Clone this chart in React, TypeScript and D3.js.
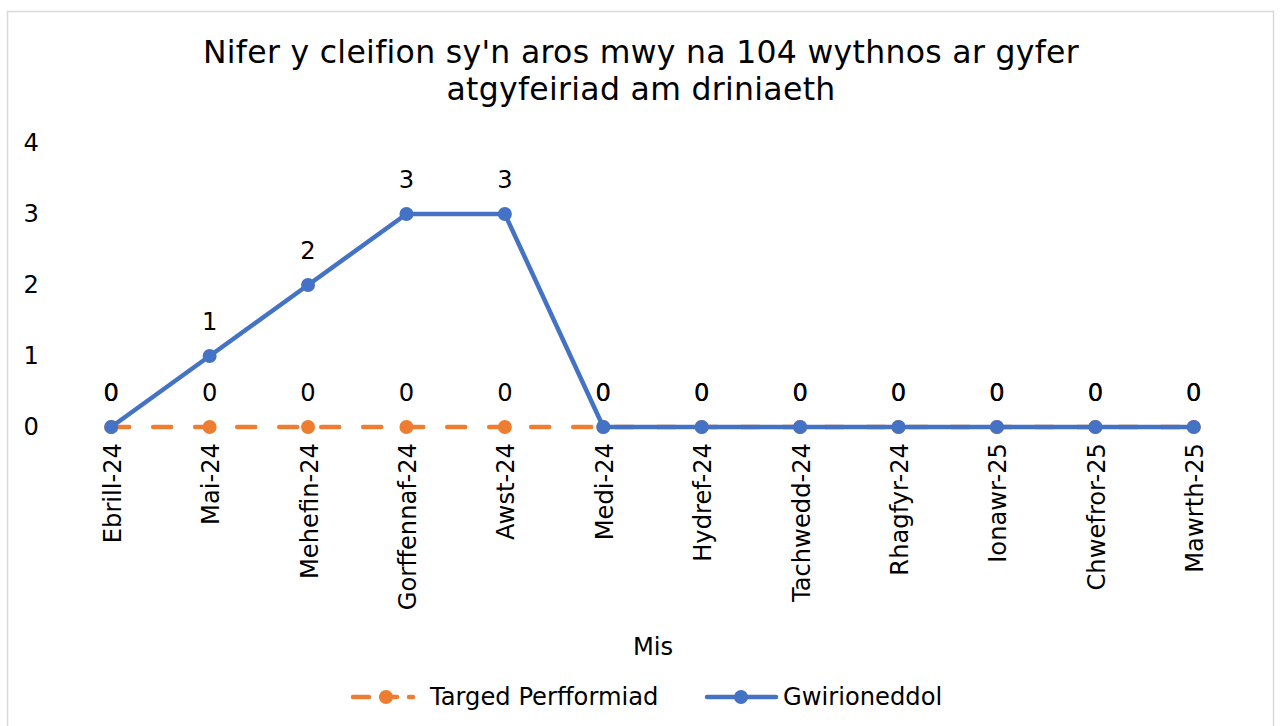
import React from "react";
import * as d3 from "d3";

// months along the x axis
const months = [
  "Ebrill-24",
  "Mai-24",
  "Mehefin-24",
  "Gorffennaf-24",
  "Awst-24",
  "Medi-24",
  "Hydref-24",
  "Tachwedd-24",
  "Rhagfyr-24",
  "Ionawr-25",
  "Chwefror-25",
  "Mawrth-25",
];
const targetValues = [0, 0, 0, 0, 0, 0, 0, 0, 0, 0, 0, 0];
const actualValues = [0, 1, 2, 3, 3, 0, 0, 0, 0, 0, 0, 0];
const yTicks = [0, 1, 2, 3, 4];

const titleLines = [
  "Nifer y cleifion sy'n aros mwy na 104 wythnos ar gyfer",
  "atgyfeiriad am driniaeth",
];

const W = 1280;
const H = 726;
const FONT = "'DejaVu Sans', Verdana, sans-serif";
const ORANGE = "#ED7D31";
const BLUE = "#4472C4";
const FS = 24.2;

export default function App() {
  const x = d3
    .scalePoint<string>()
    .domain(months)
    .range([62, 1243])
    .padding(0.5);
  const y = d3.scaleLinear().domain([0, 4]).range([427, 143]);

  const line = d3
    .line<number>()
    .x((_, i) => x(months[i]) as number)
    .y((d) => y(d));

  const series = [
    { name: "Targed Perfformiad", values: targetValues, color: ORANGE, dash: "18 24" },
    { name: "Gwirioneddol", values: actualValues, color: BLUE, dash: undefined },
  ];

  return (
    <svg
      width={W}
      height={H}
      style={{ position: "absolute", left: 0, top: 0, background: "#fff" }}
      fontFamily={FONT}
    >
      <rect x={7.5} y={11.5} width={1266} height={730} fill="#fff" stroke="#d9d9d9" strokeWidth={1.5} />

      {/* title */}
      {titleLines.map((t, i) => (
        <text
          key={i}
          x={641}
          y={63 + i * 37}
          textAnchor="middle"
          fontSize={31.5}
          letterSpacing={0.3}
          fill="#000"
        >
          {t}
        </text>
      ))}

      {/* y tick labels */}
      {yTicks.map((t) => (
        <text key={t} x={39} y={y(t)} dy="0.35em" textAnchor="end" fontSize={FS} fill="#000">
          {t}
        </text>
      ))}

      {/* x tick labels */}
      {months.map((m) => (
        <text
          key={m}
          transform={`translate(${(x(m) as number) + 1},443) rotate(-90)`}
          dy="0.35em"
          textAnchor="end"
          fontSize={FS}
          fill="#000"
        >
          {m}
        </text>
      ))}

      {/* series */}
      {series.map((s) => (
        <g key={s.name}>
          <path
            d={line(s.values) || ""}
            fill="none"
            stroke={s.color}
            strokeWidth={4.5}
            strokeDasharray={s.dash}
            strokeLinecap="round"
            strokeLinejoin="round"
          />
          {s.values.map((v, i) => (
            <circle key={i} cx={x(months[i])} cy={y(v)} r={7} fill={s.color} />
          ))}
        </g>
      ))}

      {/* data labels */}
      {series.map((s) => (
        <g key={s.name + "-lbl"}>
          {s.values.map((v, i) => (
            <text
              key={i}
              x={x(months[i])}
              y={y(v) - 34}
              dy="0.35em"
              textAnchor="middle"
              fontSize={FS}
              fill="#000"
            >
              {v}
            </text>
          ))}
        </g>
      ))}

      {/* axis title */}
      <text x={653} y={647} dy="0.35em" textAnchor="middle" fontSize={FS} fill="#000">
        Mis
      </text>

      {/* legend */}
      <g>
        <line x1={353} x2={413} y1={697} y2={697} stroke={ORANGE} strokeWidth={4.5} strokeDasharray="16 12" strokeLinecap="round" />
        <circle cx={386} cy={697} r={7} fill={ORANGE} />
        <text x={430} y={697} dy="0.35em" fontSize={FS} fill="#000">
          Targed Perfformiad
        </text>
        <line x1={707} x2={776} y1={697} y2={697} stroke={BLUE} strokeWidth={4.5} strokeLinecap="round" />
        <circle cx={741} cy={697} r={7} fill={BLUE} />
        <text x={783} y={697} dy="0.35em" fontSize={FS} fill="#000">
          Gwirioneddol
        </text>
      </g>
    </svg>
  );
}
